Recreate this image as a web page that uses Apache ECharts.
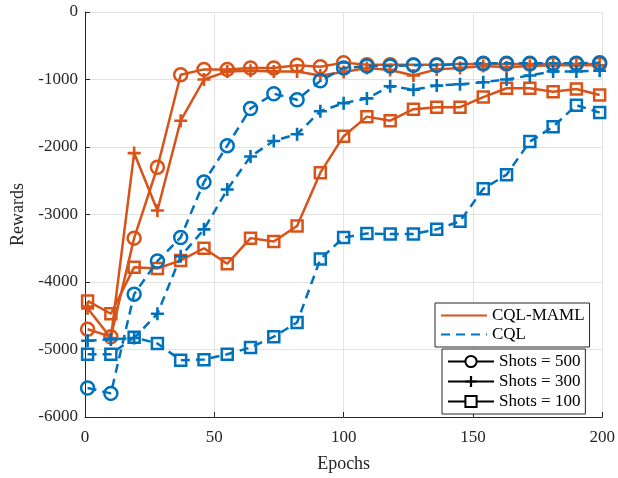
<!DOCTYPE html>
<html>
<head>
<meta charset="utf-8">
<script src="https://cdn.jsdelivr.net/npm/echarts@6/dist/echarts.min.js"></script>
<style>html,body{margin:0;padding:0;background:#fff}#c{width:618px;height:478px}</style>
</head>
<body>
<div id="c"></div>
<script>
var epochs = [1,10,19,28,37,46,55,64,73,82,91,100,109,118,127,136,145,154,163,172,181,190,199];
var maml500 = [-4700,-4810,-3350,-2300,-930,-850,-850,-830,-830,-790,-810,-750,-780,-780,-780,-780,-770,-770,-770,-770,-770,-770,-770];
var maml300 = [-4390,-4830,-2090,-2940,-1610,-1000,-880,-870,-880,-880,-940,-890,-830,-860,-940,-850,-830,-800,-820,-800,-790,-790,-790];
var maml100 = [-4280,-4470,-3780,-3800,-3680,-3500,-3730,-3350,-3400,-3170,-2380,-1840,-1550,-1610,-1440,-1410,-1410,-1260,-1130,-1130,-1180,-1140,-1230];
var cql500 = [-5570,-5650,-4180,-3690,-3340,-2520,-1980,-1430,-1210,-1300,-1020,-830,-800,-800,-790,-790,-770,-760,-760,-760,-760,-760,-750];
var cql300 = [-4870,-4850,-4830,-4470,-3620,-3220,-2630,-2140,-1910,-1810,-1470,-1350,-1280,-1100,-1150,-1090,-1070,-1040,-1000,-940,-880,-880,-870];
var cql100 = [-5070,-5070,-4820,-4910,-5160,-5150,-5070,-4970,-4810,-4600,-3660,-3340,-3280,-3290,-3290,-3220,-3100,-2620,-2410,-1920,-1700,-1380,-1490];
var xTicks = [0,50,100,150,200];
var yTicks = [-6000,-5000,-4000,-3000,-2000,-1000,0];
var methodNames = ['CQL-MAML','CQL'];
var shotNames = ['Shots = 500','Shots = 300','Shots = 100'];

var ORANGE = '#D95319', BLUE = '#0072BD';
var FONT = 'Liberation Serif';
var PLUS = 'path://M0,4H10V6H0Z M4,0H6V10H4Z';

function pairs(vals){ return epochs.map(function(e,i){ return [e, vals[i]]; }); }

function dataSeries(name, vals, color, dashed, shape){
  var s = {
    name: name, type: 'line', data: pairs(vals), z: dashed ? 3 : 2,
    lineStyle: {color: color, width: 2.5, type: dashed ? [9,6] : 'solid'},
    symbolKeepAspect: true, animation: false
  };
  if (shape === 'circle') {
    s.symbol = 'circle'; s.symbolSize = 13;
    s.itemStyle = {color: 'rgba(255,255,255,0)', borderColor: color, borderWidth: 2.5};
  } else if (shape === 'rect') {
    s.symbol = 'rect'; s.symbolSize = 11;
    s.itemStyle = {color: 'rgba(255,255,255,0)', borderColor: color, borderWidth: 2.5};
  } else {
    s.symbol = PLUS; s.symbolSize = 13;
    s.itemStyle = {color: color, borderWidth: 0};
  }
  return s;
}

var series = [
  dataSeries('m500', maml500, ORANGE, false, 'circle'),
  dataSeries('m300', maml300, ORANGE, false, 'plus'),
  dataSeries('m100', maml100, ORANGE, false, 'rect'),
  dataSeries('c500', cql500, BLUE, true, 'circle'),
  dataSeries('c300', cql300, BLUE, true, 'plus'),
  dataSeries('c100', cql100, BLUE, true, 'rect'),
  {name: methodNames[0], type: 'line', data: [], symbol: 'none', itemStyle: {color: ORANGE}, lineStyle: {color: ORANGE, width: 2.5}},
  {name: methodNames[1], type: 'line', data: [], symbol: 'none', itemStyle: {color: BLUE}, lineStyle: {color: BLUE, width: 2.5, type: [9,6]}},
  {name: shotNames[0], type: 'line', data: [], symbol: 'circle', symbolSize: 11, itemStyle: {color: '#fff', borderColor: '#000', borderWidth: 2}, lineStyle: {color: '#000', width: 2.5}},
  {name: shotNames[1], type: 'line', data: [], symbol: PLUS, symbolSize: 13, itemStyle: {color: '#000', borderWidth: 0}, lineStyle: {color: '#000', width: 2.5}},
  {name: shotNames[2], type: 'line', data: [], symbol: 'rect', symbolSize: 10, itemStyle: {color: '#fff', borderColor: '#000', borderWidth: 2}, lineStyle: {color: '#000', width: 2.5}}
];

var hiddenSym = {color: 'rgba(0,0,0,0)', borderColor: 'rgba(0,0,0,0)', borderWidth: 0, opacity: 0};

var chart = echarts.init(document.getElementById('c'), null, {renderer: 'canvas'});
chart.setOption({
  animation: false,
  backgroundColor: '#fff',
  grid: {left: 85, right: 14, top: 12, bottom: 58, containLabel: false},
  xAxis: {
    type: 'value', min: xTicks[0], max: xTicks[xTicks.length-1], interval: 50,
    name: 'Epochs', nameLocation: 'middle', nameGap: 38,
    nameTextStyle: {fontFamily: FONT, fontSize: 18, color: '#262626'},
    axisLine: {show: true, onZero: false, lineStyle: {color: '#262626', width: 1}},
    axisTick: {show: true, inside: true, length: 5, lineStyle: {color: '#262626'}},
    axisLabel: {fontFamily: FONT, fontSize: 17, color: '#262626', margin: 12, formatter: function(v){ return String(v); }},
    splitLine: {show: true, lineStyle: {color: '#e3e3e3', width: 1}}
  },
  yAxis: {
    type: 'value', min: yTicks[0], max: yTicks[yTicks.length-1], interval: 1000,
    name: 'Rewards', nameLocation: 'middle', nameGap: 55,
    nameTextStyle: {fontFamily: FONT, fontSize: 18, color: '#262626'},
    axisLine: {show: true, onZero: false, lineStyle: {color: '#262626', width: 1}},
    axisTick: {show: true, inside: true, length: 5, lineStyle: {color: '#262626'}},
    axisLabel: {fontFamily: FONT, fontSize: 17, color: '#262626', margin: 7, formatter: function(v){ return String(v); }},
    splitLine: {show: true, lineStyle: {color: '#e3e3e3', width: 1}}
  },
  legend: [
    {
      data: methodNames.map(function(n){ return {name: n, itemStyle: hiddenSym}; }),
      orient: 'vertical', left: 435, top: 303,
      backgroundColor: '#fff', borderColor: '#262626', borderWidth: 1, borderRadius: 0,
      padding: [4, 5, 4, 5], itemWidth: 46, itemHeight: 14, itemGap: 2,
      textStyle: {fontFamily: FONT, fontSize: 17, color: '#000'}
    },
    {
      data: shotNames, orient: 'vertical', left: 442, top: 349,
      backgroundColor: '#fff', borderColor: '#262626', borderWidth: 1, borderRadius: 0,
      padding: [4, 5, 4, 5], itemWidth: 46, itemHeight: 14, itemGap: 3,
      textStyle: {fontFamily: FONT, fontSize: 17, color: '#000'}
    }
  ],
  series: series
});
</script>
</body>
</html>
